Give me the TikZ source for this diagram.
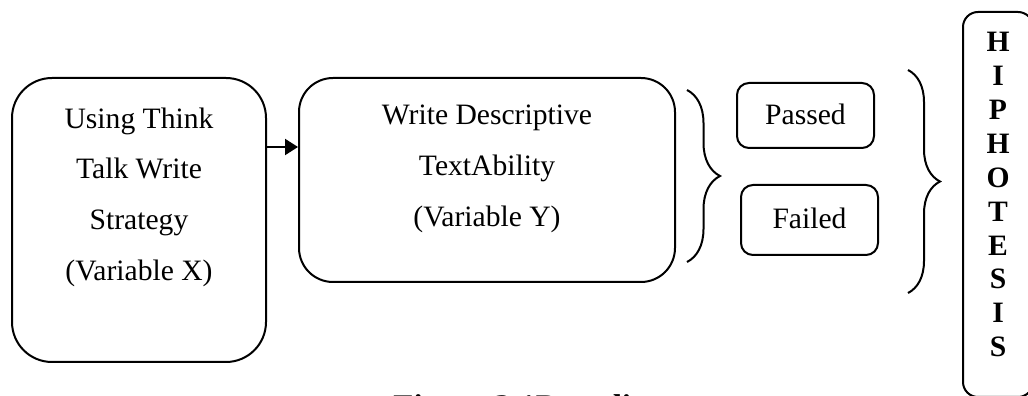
\documentclass[tikz,border=0pt]{standalone}
\usepackage{fontspec}
\setmainfont{Liberation Serif}
\usetikzlibrary{arrows.meta,decorations.pathreplacing}

\begin{document}
\begin{tikzpicture}[x=0.5pt,y=0.5pt,font=\fontsize{14.8}{25.35}\selectfont]
	\useasboundingbox (0,0) rectangle (1028,396);
	\clip (0,0) rectangle (1028,396);
	\fill[white] (0,0) rectangle (1028,396);

	\begin{scope}[every node/.style={draw,line width=1pt,inner sep=0pt}]
		\node[rounded corners=20pt,minimum width=127pt,minimum height=142pt] (X) at (139,176) {};
		\node[rounded corners=17pt,minimum width=188pt,minimum height=102pt] (Y) at (487,216) {};
		\node[rounded corners=6pt,minimum width=68.5pt,minimum height=32.5pt,text depth=1.5pt] (passed) at (805.5,280.5) {Passed};
		\node[rounded corners=6pt,minimum width=68.5pt,minimum height=35pt,text depth=1.5pt] (failed) at (809.5,176) {Failed};
		\node[rounded corners=7.5pt,minimum width=35pt,minimum height=192.5pt] (H) at (998,191.5) {};
	\end{scope}

	\begin{scope}[every node/.style={align=center,inner sep=0pt}]
		\node (Xtext) at (139,199) {Using Think\\Talk Write\\Strategy\\(Variable X)};
		\node (Ytext) at (487,227) {Write Descriptive\\TextAbility\\(Variable Y)};
		\node[font=\fontsize{14.8}{16.95}\selectfont\bfseries] (Htext) at (998,201.3) {H\\I\\P\\H\\O\\T\\E\\S\\I\\S};
		\node[anchor=base west,font=\fontsize{16.5}{20}\selectfont\bfseries] (caption) at (393,-22) {Figure 2.1Paradigm};
	\end{scope}

	\begin{scope}[line width=1pt]
		\coordinate (Xout) at ([yshift=36.5pt]X.east);
		\draw[-{Triangle[length=6.5pt,width=8pt]}] (Xout) -- (Xout -| Y.west);
		\draw[decorate,decoration={brace,amplitude=16.5pt}] (687,306) -- (687,134);
		\draw[decorate,decoration={brace,amplitude=16pt}] (908,326) -- (908,103);
	\end{scope}
\end{tikzpicture}
\end{document}
